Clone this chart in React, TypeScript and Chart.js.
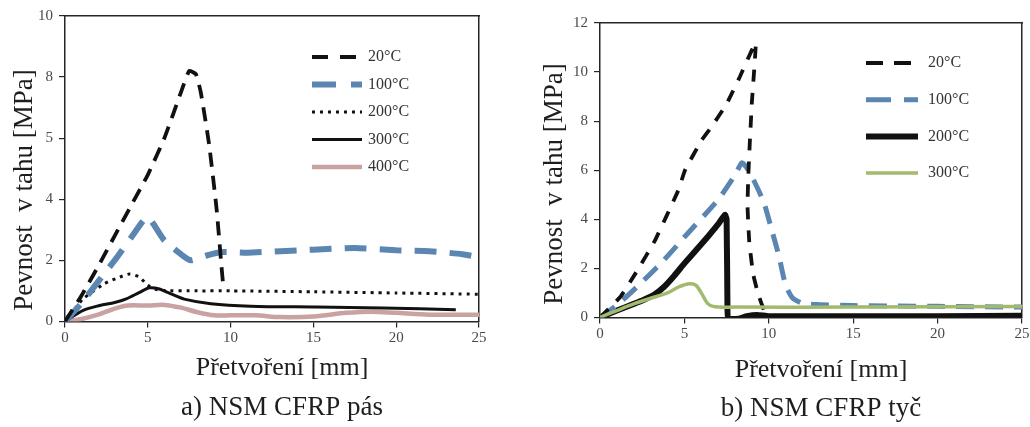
import React, { useEffect, useRef } from 'react';
import { Chart, registerables } from 'chart.js';

Chart.register(...registerables);

// ---------- shared ticks ----------
const xTickStep = 5;
const xMin = 0;
const xMax = 25;

// ---------- panel a) NSM CFRP pás ----------
const aTitle = 'a) NSM CFRP pás';
const aYMax = 10;
const aYStep = 2;
const aYTickLabels = ['0', '2', '4', '5', '8', '10'];
const aLabels = ['20°C', '100°C', '200°C', '300°C', '400°C'];

const a20x = [0, 1, 2, 3, 4, 5, 6, 7, 7.5, 7.9, 8.2, 8.7, 9.15, 9.45, 9.55];
const a20y = [0, 0.85, 1.8, 2.8, 3.8, 4.8, 6.0, 7.5, 8.2, 8.1, 7.5, 5.8, 3.7, 1.8, 1.2];

const a100x = [0, 1, 2, 3, 4, 4.9, 5.2, 6, 7, 7.6, 8.5, 9.5, 11, 13, 15, 17.5, 20, 22, 24, 25];
const a100y = [0, 0.6, 1.3, 2.0, 2.75, 3.4, 3.3, 2.65, 2.2, 2.0, 2.15, 2.27, 2.25, 2.3, 2.35, 2.4, 2.33, 2.3, 2.2, 2.1];

const a200x = [0, 0.5, 1.1, 2.4, 3.3, 3.9, 4.5, 5.0, 5.7, 8, 10, 15, 20, 25];
const a200y = [0, 0.35, 0.74, 1.24, 1.45, 1.55, 1.45, 1.18, 1.02, 1.0, 1.0, 0.97, 0.93, 0.89];

const a300x = [0, 1.1, 2.1, 3, 3.7, 4.5, 5.1, 5.7, 6.4, 7.2, 8.8, 11.2, 15.2, 19.2, 23.6];
const a300y = [0, 0.36, 0.52, 0.62, 0.74, 0.95, 1.1, 1.06, 0.9, 0.73, 0.58, 0.5, 0.47, 0.44, 0.38];

const a400x = [0, 1, 2, 3, 3.8, 5, 6, 7, 8, 9, 10, 11.5, 13, 15, 17, 18.5, 20, 22, 25];
const a400y = [0, 0.08, 0.22, 0.42, 0.52, 0.52, 0.54, 0.45, 0.3, 0.2, 0.2, 0.2, 0.14, 0.16, 0.28, 0.32, 0.28, 0.22, 0.22];

// ---------- panel b) NSM CFRP tyč ----------
const bTitle = 'b) NSM CFRP tyč';
const bYMax = 12;
const bYStep = 2;
const bYTickLabels = ['0', '2', '4', '6', '8', '10', '12'];
const bLabels = ['20°C', '100°C', '200°C', '300°C'];

const b20x = [0, 1.2, 2.2, 3.26, 4.64, 5.03, 6.0, 6.6, 7.5, 8.28, 8.8, 9.23, 9.0, 8.88, 8.78, 8.74, 8.84, 9.07, 9.37, 9.76, 9.85];
const b20y = [0, 0.83, 1.9, 3.14, 5.18, 5.99, 7.2, 7.76, 8.7, 9.8, 10.6, 11.2, 8.8, 7.2, 5.7, 4.5, 3.1, 1.77, 0.95, 0.2, 0.05];

const b100x = [0, 1, 1.97, 3.6, 5.1, 7.0, 8.0, 8.4, 8.7, 9.1, 9.7, 10.2, 10.6, 11.0, 11.4, 12, 13, 15, 20, 25];
const b100y = [0, 0.5, 1.1, 2.2, 3.35, 4.8, 5.8, 6.3, 6.1, 5.6, 4.7, 3.5, 2.5, 1.3, 0.8, 0.57, 0.52, 0.48, 0.45, 0.42];

const b200x = [0, 1, 2, 2.6, 3.2, 3.8, 4.4, 5, 5.7, 6.4, 7, 7.4, 7.5, 7.55, 7.6, 8.2, 8.7, 9.3, 10, 15, 20, 25];
const b200y = [0, 0.28, 0.55, 0.72, 0.92, 1.25, 1.7, 2.2, 2.75, 3.3, 3.8, 4.18, 4.0, 0.5, -0.05, -0.05, 0.05, 0.1, 0.05, 0.05, 0.05, 0.07];

const b300x = [0, 1, 2, 3, 4, 4.7, 5.3, 5.7, 6.0, 6.4, 6.8, 8, 15, 25];
const b300y = [0, 0.28, 0.55, 0.78, 1.0, 1.25, 1.37, 1.3, 1.0, 0.55, 0.43, 0.42, 0.42, 0.44];

// ---------- styling ----------
const SERIF = '"Liberation Serif", "Times New Roman", serif';
const AXIS = '#262626';
const TICK = '#4a4a4a';
const TEXT = '#1e1e1e';
const BLACK = '#111111';
const BLUE = '#5b86b2';
const PINK = '#c9a2a2';
const GREEN = '#a2ba6e';
const H = 427;

const pts = (xs: number[], ys: number[]) => xs.map((x, i) => ({ x, y: ys[i] }));

const yTitlePlugin = {
  id: 'yTitle',
  afterDraw(chart: any, _args: any, opts: any) {
    if (!opts || !opts.text) return;
    const ctx = chart.ctx;
    ctx.save();
    ctx.translate(opts.x, opts.y);
    ctx.rotate(-Math.PI / 2);
    ctx.font = opts.font;
    ctx.fillStyle = opts.color;
    ctx.textAlign = 'center';
    ctx.textBaseline = 'alphabetic';
    ctx.fillText(opts.text, 0, 0);
    ctx.restore();
  },
};

const lineLegendPlugin = {
  id: 'lineLegend',
  afterDatasetsDraw(chart: any, _args: any, opts: any) {
    if (!opts || opts.x === undefined) return;
    const ctx = chart.ctx;
    chart.data.datasets.forEach((ds: any, i: number) => {
      const y = opts.y + i * opts.rowGap;
      ctx.save();
      ctx.strokeStyle = ds.borderColor;
      ctx.lineWidth = ds.borderWidth;
      ctx.lineCap = 'butt';
      ctx.setLineDash((opts.dashes && opts.dashes[i]) || []);
      ctx.beginPath();
      ctx.moveTo(opts.x, y);
      ctx.lineTo(opts.x + opts.sampleWidth, y);
      ctx.stroke();
      ctx.setLineDash([]);
      ctx.fillStyle = opts.color;
      ctx.font = opts.font;
      ctx.textAlign = 'left';
      ctx.textBaseline = 'middle';
      ctx.fillText(ds.label, opts.textX, y);
      ctx.restore();
    });
  },
};

function makeScales(yMax: number, yStep: number, yLabels: string[], yWidth: number, xPadRight: number) {
  const tickFont = { family: SERIF, size: 15 };
  const grid = { drawOnChartArea: false, drawTicks: true, tickLength: 6, color: AXIS, lineWidth: 1.2 };
  const border = { color: AXIS, width: 1.5 };
  return {
    x: {
      type: 'linear',
      position: 'bottom',
      min: xMin,
      max: xMax,
      ticks: { stepSize: xTickStep, font: tickFont, color: TICK, padding: 2, maxRotation: 0 },
      grid,
      border,
      afterFit: (s: any) => {
        s.height = 30;
        s.paddingLeft = 0;
        s.paddingRight = xPadRight;
      },
    },
    y: {
      type: 'linear',
      position: 'left',
      min: 0,
      max: yMax,
      ticks: { stepSize: yStep, font: tickFont, color: TICK, padding: 6, callback: (_v: any, i: number) => yLabels[i] },
      grid,
      border,
      afterFit: (s: any) => {
        s.width = yWidth;
        s.paddingTop = 0;
        s.paddingBottom = 0;
      },
    },
    xTop: {
      type: 'linear',
      position: 'top',
      min: xMin,
      max: xMax,
      ticks: { display: false },
      grid: { display: false },
      border,
      afterFit: (s: any) => {
        s.height = 0;
        s.paddingLeft = 0;
        s.paddingRight = 0;
      },
    },
    yRight: {
      type: 'linear',
      position: 'right',
      min: 0,
      max: yMax,
      ticks: { display: false },
      grid: { display: false },
      border,
      afterFit: (s: any) => {
        s.width = 0;
        s.paddingTop = 0;
        s.paddingBottom = 0;
      },
    },
  };
}

function ds(
  label: string,
  xs: number[],
  ys: number[],
  color: string,
  width: number,
  dash: number[],
  tension: number,
  order = 0
) {
  return {
    label,
    data: pts(xs, ys),
    borderColor: color,
    backgroundColor: color,
    borderWidth: width,
    borderDash: dash,
    pointRadius: 0,
    tension,
    fill: false,
    order,
    xAxisID: 'x',
    yAxisID: 'y',
  };
}

function makeConfig(p: {
  datasets: any[];
  yMax: number;
  yStep: number;
  yLabels: string[];
  yWidth: number;
  xPadRight: number;
  padding: any;
  title: string;
  subPadTop: number;
  titlePadTop: number;
  yTitle: any;
  legend: any;
}): any {
  return {
    type: 'line',
    data: { datasets: p.datasets },
    plugins: [yTitlePlugin, lineLegendPlugin],
    options: {
      responsive: false,
      animation: false,
      devicePixelRatio: 1,
      layout: { padding: p.padding },
      scales: makeScales(p.yMax, p.yStep, p.yLabels, p.yWidth, p.xPadRight),
      plugins: {
        legend: { display: false },
        tooltip: { enabled: false },
        subtitle: {
          display: true,
          position: 'bottom',
          text: 'Přetvoření [mm]',
          color: TEXT,
          font: { family: SERIF, size: 26, weight: 'normal' },
          padding: { top: p.subPadTop, bottom: 0 },
        },
        title: {
          display: true,
          position: 'bottom',
          text: p.title,
          color: TEXT,
          font: { family: SERIF, size: 27, weight: 'normal' },
          padding: { top: p.titlePadTop, bottom: 0 },
        },
        yTitle: p.yTitle,
        lineLegend: p.legend,
      },
    },
  };
}

const configA = () =>
  makeConfig({
    datasets: [
      ds(aLabels[0], a20x, a20y, BLACK, 3.8, [14, 9], 0.15),
      ds(aLabels[1], a100x, a100y, BLUE, 6, [22, 13], 0.2),
      ds(aLabels[2], a200x, a200y, BLACK, 3, [3, 5], 0.2),
      ds(aLabels[3], a300x, a300y, BLACK, 3, [], 0.3),
      ds(aLabels[4], a400x, a400y, PINK, 4.5, [], 0.3),
    ],
    yMax: aYMax,
    yStep: aYStep,
    yLabels: aYTickLabels,
    yWidth: 65,
    xPadRight: 85,
    padding: { top: 16, left: 0, right: 0, bottom: 3 },
    title: aTitle,
    subPadTop: 1,
    titlePadTop: 8,
    yTitle: { text: 'Pevnost  v tahu [MPa]', x: 32, y: 190, font: `27px ${SERIF}`, color: TEXT },
    legend: {
      x: 312,
      y: 57,
      rowGap: 27.5,
      sampleWidth: 50,
      textX: 368,
      dashes: [[16, 12], [24, 15], [3, 5], [], []],
      font: `16px ${SERIF}`,
      color: '#333333',
    },
  });

const configB = () =>
  makeConfig({
    datasets: [
      ds(bLabels[0], b20x, b20y, BLACK, 3.8, [12, 11], 0.1),
      ds(bLabels[1], b100x, b100y, BLUE, 5, [18, 11], 0.2),
      ds(bLabels[2], b200x, b200y, BLACK, 6, [], 0.15),
      ds(bLabels[3], b300x, b300y, GREEN, 3.5, [], 0.3, -1),
    ],
    yMax: bYMax,
    yStep: bYStep,
    yLabels: bYTickLabels,
    yWidth: 40,
    xPadRight: 60,
    padding: { top: 23, left: 40, right: 0, bottom: 2 },
    title: bTitle,
    subPadTop: 7,
    titlePadTop: 7,
    yTitle: { text: 'Pevnost  v tahu [MPa]', x: 42, y: 184, font: `27px ${SERIF}`, color: TEXT },
    legend: {
      x: 346,
      y: 63,
      rowGap: 36.7,
      sampleWidth: 52,
      textX: 408,
      dashes: [[17, 11], [25, 13], [], []],
      font: `16px ${SERIF}`,
      color: '#333333',
    },
  });

function Panel({ left, width, makeCfg }: { left: number; width: number; makeCfg: () => any }) {
  const ref = useRef<HTMLCanvasElement>(null);
  useEffect(() => {
    const chart = new Chart(ref.current as HTMLCanvasElement, makeCfg());
    return () => chart.destroy();
  }, []);
  return (
    <canvas
      ref={ref}
      width={width}
      height={H}
      style={{ position: 'absolute', left, top: 0, width, height: H, display: 'block' }}
    />
  );
}

export default function App() {
  return (
    <div
      style={{
        position: 'fixed',
        left: 0,
        top: 0,
        width: 1030,
        height: H,
        overflow: 'hidden',
        background: '#ffffff',
      }}
    >
      <Panel left={0} width={564} makeCfg={configA} />
      <Panel left={520} width={562} makeCfg={configB} />
    </div>
  );
}
